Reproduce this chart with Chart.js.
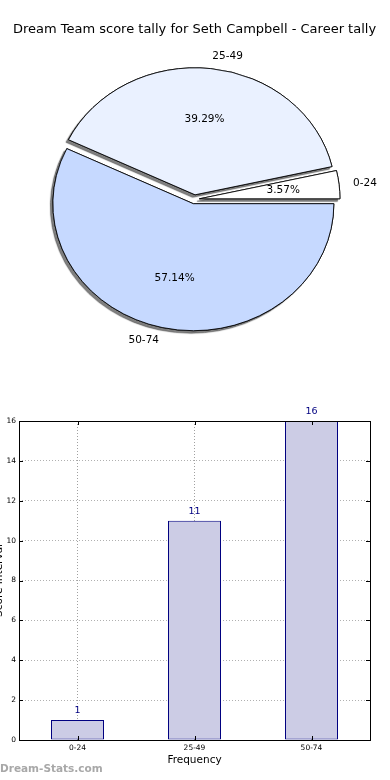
<!DOCTYPE html>
<html>
<head>
<meta charset="utf-8">
<script src="https://cdn.jsdelivr.net/npm/chart.js@4.4.1/dist/chart.umd.min.js"></script>
<style>
  html, body { margin: 0; padding: 0; background: #fff; }
  body { width: 390px; height: 780px; position: relative; overflow: hidden; }
  #pieChart { position: absolute; left: 0; top: 0; }
  #barChart { position: absolute; left: -10px; top: 400px; }
  #mark { position: absolute; left: 0; top: 762px; font: bold 10.5px "DejaVu Sans", sans-serif; color: #a8a8a8; }
</style>
</head>
<body>
<canvas id="pieChart" width="390" height="370"></canvas>
<canvas id="barChart" width="400" height="380"></canvas>
<div id="mark">Dream-Stats.com</div>
<script>
// Score intervals and how often each one happened
const categories = ['0-24', '25-49', '50-74'];
const counts = [1, 11, 16];
const pieColors = ['#ffffff', '#eaf1ff', '#c6d9ff'];
const yTickMin = 0;
const yTickMax = 16;
const yTickStep = 2;

const FONT = '"DejaVu Sans", sans-serif';
const squash = 127 / 140.5;   // matplotlib drew the pie as an ellipse
const explodePx = 5;

const total = counts.reduce((a, b) => a + b, 0);

// matplotlib goes counter-clockwise from 3 o'clock, Chart.js clockwise, so reverse
const pieLabels = categories.slice().reverse();
const pieData = counts.slice().reverse();
const pieBg = pieColors.slice().reverse();

// draw the wedges ourselves: squashed into an ellipse, pulled out, with a drop shadow
const pieExtras = {
    id: 'pieExtras',
    beforeDatasetsDraw(chart) {
        const ctx = chart.ctx;
        const arcs = chart.getDatasetMeta(0).data;
        const c = arcs[0];
        const drawAll = () => arcs.forEach(a => {
            const mid = (a.startAngle + a.endAngle) / 2;
            ctx.save();
            ctx.translate(Math.cos(mid) * explodePx, Math.sin(mid) * explodePx);
            a.draw(ctx);
            ctx.restore();
        });
        ctx.save();
        ctx.translate(c.x, c.y);
        ctx.scale(1, squash);
        ctx.translate(-c.x, -c.y);
        // shadows first, so they sit under every wedge
        ctx.save();
        ctx.shadowColor = 'rgba(0,0,0,0.5)';
        ctx.shadowOffsetX = -2.5;
        ctx.shadowOffsetY = 2.5;
        ctx.shadowBlur = 1;
        drawAll();
        ctx.restore();
        drawAll();
        ctx.restore();

        ctx.save();
        ctx.fillStyle = '#000';
        ctx.font = '10.5px ' + FONT;
        ctx.textBaseline = 'middle';
        arcs.forEach((arc, i) => {
            const mid = (arc.startAngle + arc.endAngle) / 2;
            const px = d => arc.x + Math.cos(mid) * (explodePx + d * arc.outerRadius);
            const py = d => arc.y + Math.sin(mid) * (explodePx + d * arc.outerRadius) * squash;
            const pct = (pieData[i] / total * 100).toFixed(2) + '%';
            ctx.textAlign = 'center';
            ctx.fillText(pct, px(0.6), py(0.6));
            ctx.textAlign = Math.cos(mid) >= 0 ? 'left' : 'right';
            ctx.fillText(pieLabels[i], px(1.1), py(1.1));
        });
        ctx.restore();
        return false;
    }
};

new Chart(document.getElementById('pieChart'), {
    type: 'pie',
    data: {
        labels: pieLabels,
        datasets: [{
            data: pieData,
            backgroundColor: pieBg,
            borderColor: '#000',
            borderWidth: 0.9,
            borderJoinStyle: 'miter',
            clip: false
        }]
    },
    options: {
        responsive: false,
        animation: false,
        events: [],
        rotation: 90,
        radius: 140.5,
        layout: { padding: { left: 0, right: 1, top: 0, bottom: 9.2 } },
        plugins: {
            legend: { display: false },
            tooltip: { enabled: false },
            title: {
                display: true,
                text: 'Dream Team score tally for Seth Campbell - Career tally',
                color: '#000',
                font: { family: FONT, size: 13, weight: 'normal', lineHeight: 1.2 },
                padding: { top: 22.2, bottom: 0 }
            }
        }
    },
    plugins: [pieExtras]
});

// bar chart: numbers over bars, closed frame and inward ticks like matplotlib
const barExtras = {
    id: 'barExtras',
    afterDatasetsDraw(chart) {
        const ctx = chart.ctx;
        ctx.save();
        ctx.fillStyle = '#000080';
        ctx.font = '9.5px ' + FONT;
        ctx.textAlign = 'center';
        ctx.textBaseline = 'middle';
        chart.getDatasetMeta(0).data.forEach((bar, i) => {
            ctx.fillText(String(counts[i]), bar.x, bar.y - 9.5);
        });
        ctx.restore();
    },
    afterDraw(chart) {
        const ctx = chart.ctx;
        const a = chart.chartArea;
        const x = chart.scales.x, y = chart.scales.y;
        ctx.save();
        ctx.strokeStyle = '#000';
        ctx.lineWidth = 1;
        ctx.beginPath();
        y.ticks.forEach((t, i) => {
            const py = Math.round(y.getPixelForTick(i)) + 0.5;
            ctx.moveTo(a.left, py); ctx.lineTo(a.left + 4, py);
            ctx.moveTo(a.right, py); ctx.lineTo(a.right - 4, py);
        });
        x.ticks.forEach((t, i) => {
            const px = Math.round(x.getPixelForTick(i)) + 0.5;
            ctx.moveTo(px, a.bottom); ctx.lineTo(px, a.bottom - 4);
            ctx.moveTo(px, a.top); ctx.lineTo(px, a.top + 4);
        });
        ctx.stroke();
        ctx.strokeRect(Math.round(a.left) + 0.5, Math.round(a.top) + 0.5,
            Math.round(a.right - a.left), Math.round(a.bottom - a.top));
        ctx.restore();
    }
};

const tickFont = { family: FONT, size: 7.5 };

new Chart(document.getElementById('barChart'), {
    type: 'bar',
    data: {
        labels: categories,
        datasets: [{
            data: counts,
            backgroundColor: '#ccccE5',
            borderColor: '#000080',
            borderWidth: 1,
            borderSkipped: false,
            barPercentage: 0.453,
            categoryPercentage: 1
        }]
    },
    options: {
        responsive: false,
        animation: false,
        events: [],
        layout: { padding: { left: 0, right: 20, top: 21, bottom: 0 } },
        plugins: { legend: { display: false }, tooltip: { enabled: false } },
        scales: {
            x: {
                offset: true,
                z: 1,
                grid: { offset: false, color: '#a0a0a0', lineWidth: 1, drawTicks: false },
                border: { display: false, dash: [1, 2] },
                ticks: { color: '#000', font: tickFont, padding: 4 },
                title: { display: true, text: 'Frequency', color: '#000', font: { family: FONT, size: 10.5 }, padding: { top: 0, bottom: 13.7 } },
                afterFit: s => { s.height = 40; }
            },
            y: {
                min: yTickMin,
                max: yTickMax,
                z: 1,
                grid: { color: '#b0b0b0', lineWidth: 1, drawTicks: false },
                border: { display: false, dash: [1, 2] },
                ticks: { stepSize: yTickStep, color: '#000', font: tickFont, padding: 3 },
                title: { display: true, text: 'Score Interval', color: '#000', font: { family: FONT, size: 10.5 }, padding: { top: 2.5, bottom: 0 } },
                afterFit: s => { s.width = 29; }
            }
        }
    },
    plugins: [barExtras]
});
</script>
</body>
</html>
